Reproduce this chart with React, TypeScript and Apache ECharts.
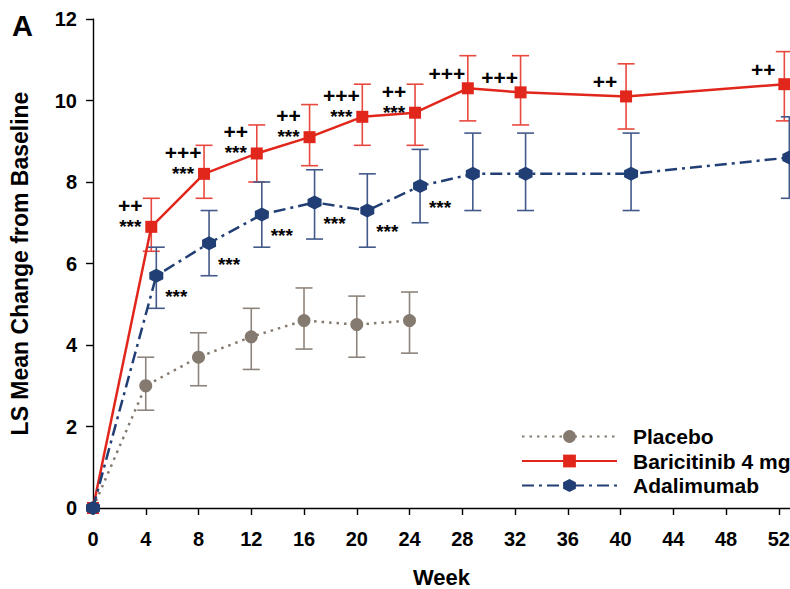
import React, { useEffect, useRef } from "react";
import * as echarts from "echarts";

// ---- data ----
const placeboWeeks = [0, 4, 8, 12, 16, 20, 24];
const placeboMean = [0, 3.0, 3.7, 4.2, 4.6, 4.5, 4.6];
const placeboLow = [null, 2.4, 3.0, 3.4, 3.9, 3.7, 3.8];
const placeboHigh = [null, 3.7, 4.3, 4.9, 5.4, 5.2, 5.3];

const activeWeeks = [0, 4, 8, 12, 16, 20, 24, 28, 32, 40, 52];
const baricitinibMean = [0, 6.9, 8.2, 8.7, 9.1, 9.6, 9.7, 10.3, 10.2, 10.1, 10.4];
const baricitinibLow = [null, 6.3, 7.6, 8.0, 8.4, 8.9, 8.9, 9.5, 9.4, 9.3, 9.5];
const baricitinibHigh = [null, 7.6, 8.9, 9.4, 9.9, 10.4, 10.4, 11.1, 11.1, 10.9, 11.2];
const baricitinibVsAdalimumab = ["", "++", "+++", "++", "++", "+++", "++", "+++", "+++", "++", "++"];
const baricitinibVsPlacebo = ["", "***", "***", "***", "***", "***", "***", "", "", "", ""];

const adalimumabMean = [0, 5.7, 6.5, 7.2, 7.5, 7.3, 7.9, 8.2, 8.2, 8.2, 8.6];
const adalimumabLow = [null, 4.9, 5.7, 6.4, 6.6, 6.4, 7.0, 7.3, 7.3, 7.3, 7.6];
const adalimumabHigh = [null, 6.4, 7.3, 8.0, 8.3, 8.2, 8.8, 9.2, 9.2, 9.2, 9.6];
const adalimumabVsPlacebo = ["", "***", "***", "***", "***", "***", "***", "", "", "", ""];

const xTicks = [0, 4, 8, 12, 16, 20, 24, 28, 32, 36, 40, 44, 48, 52];
const yTicks = [0, 2, 4, 6, 8, 10, 12];

// horizontal dodge (weeks) so that the groups do not overlap
const dodgePlacebo = 0;
const dodgeBaricitinib = 0.42;
const dodgeAdalimumab = 0.8;

const FONT = "'Liberation Sans', Arial, sans-serif";
const C_PLACEBO = "#857a70";
const C_PLACEBO_BAR = "#8e847b";
const C_BARI = "#e1261c";
const C_BARI_BAR = "#e8493f";
const C_ADA = "#213f74";
const C_ADA_BAR = "#42598a";

const shift = (w: number, d: number) => (w === 0 ? 0 : w + d);

function errorData(weeks: number[], lo: (number | null)[], hi: (number | null)[], d: number) {
  const out: number[][] = [];
  weeks.forEach((w, i) => {
    if (lo[i] != null && hi[i] != null) out.push([shift(w, d), lo[i] as number, hi[i] as number]);
  });
  return out;
}

function errorSeries(name: string, data: number[][], color: string) {
  return {
    name,
    type: "custom",
    z: 1,
    data,
    encode: { x: 0, y: [1, 2] },
    renderItem: (params: any, api: any) => {
      const x = api.value(0);
      const top = api.coord([x, api.value(2)]);
      const bot = api.coord([x, api.value(1)]);
      const hw = 8.5;
      const style = { stroke: color, lineWidth: 1.6 };
      return {
        type: "group",
        children: [
          { type: "line", shape: { x1: top[0], y1: top[1], x2: bot[0], y2: bot[1] }, style },
          { type: "line", shape: { x1: top[0] - hw, y1: top[1], x2: top[0] + hw, y2: top[1] }, style },
          { type: "line", shape: { x1: bot[0] - hw, y1: bot[1], x2: bot[0] + hw, y2: bot[1] }, style },
        ],
      };
    },
  };
}

const hexagon = "path://M0,-1L0.866,-0.5L0.866,0.5L0,1L-0.866,0.5L-0.866,-0.5Z";

export default function App() {
  const ref = useRef<HTMLDivElement>(null);
  useEffect(() => {
    if (!ref.current) return;
    const chart = echarts.init(ref.current, null, { renderer: "svg" });

    const bariData = activeWeeks.map((w, i) => {
      const plus = baricitinibVsAdalimumab[i];
      const stars = baricitinibVsPlacebo[i];
      let txt = "";
      let offset = [-21, -15];
      if (plus && stars) {
        txt = `{p|${plus}}\n{s|${stars}}`;
        offset = [-21, -11];
      } else if (plus) txt = `{p|${plus}}`;
      return {
        value: [shift(w, dodgeBaricitinib), baricitinibMean[i]],
        label: { show: txt !== "", formatter: txt, offset },
      };
    });

    const adaData = activeWeeks.map((w, i) => {
      const stars = adalimumabVsPlacebo[i];
      return {
        value: [shift(w, dodgeAdalimumab), adalimumabMean[i]],
        label: { show: stars !== "", formatter: stars ? `{s|${stars}}` : "" },
      };
    });

    const placeboData = placeboWeeks.map((w, i) => [shift(w, dodgePlacebo), placeboMean[i]]);

    const rich = {
      p: { fontFamily: FONT, fontWeight: "bold", fontSize: 21, lineHeight: 21, color: "#000" },
      s: { fontFamily: FONT, fontWeight: "bold", fontSize: 19, lineHeight: 21, color: "#000" },
    };

    chart.setOption({
      animation: false,
      textStyle: { fontFamily: FONT },
      grid: { left: 93, right: 0, top: 19, bottom: 81, containLabel: false, outerBoundsMode: "none" },
      graphic: [
        {
          type: "text",
          left: 12,
          top: 11,
          style: { text: "A", font: `bold 29px ${FONT}`, fill: "#000" },
        },
      ],
      legend: {
        orient: "vertical",
        left: 516,
        top: 421,
        itemWidth: 95,
        itemHeight: 16,
        itemGap: 3.5,
        data: ["Placebo", "Baricitinib 4 mg", "Adalimumab"],
        textStyle: {
          fontFamily: FONT,
          fontWeight: "bold",
          fontSize: 21,
          lineHeight: 21,
          color: "#000",
          padding: [0, 0, 0, 11],
        },
      },
      xAxis: {
        type: "value",
        min: 0,
        max: 52.85,
        interval: 4,
        name: "Week",
        nameLocation: "middle",
        nameGap: 59,
        nameTextStyle: { fontFamily: FONT, fontWeight: "bold", fontSize: 22, lineHeight: 20, color: "#000" },
        axisLine: { show: true, lineStyle: { color: "#000", width: 1.4 } },
        axisTick: { show: true, length: 7, lineStyle: { color: "#000", width: 1.4 }, customValues: xTicks },
        axisLabel: {
          customValues: xTicks,
          margin: 21,
          fontFamily: FONT,
          fontWeight: "bold",
          fontSize: 20,
          color: "#000",
        },
        splitLine: { show: false },
      },
      yAxis: {
        type: "value",
        min: 0,
        max: 12,
        interval: 2,
        name: "LS Mean Change from Baseline",
        nameLocation: "middle",
        nameGap: 62,
        nameTextStyle: { fontFamily: FONT, fontWeight: "bold", fontSize: 23, color: "#000" },
        axisLine: { show: true, lineStyle: { color: "#000", width: 1.4 } },
        axisTick: { show: true, length: 7, lineStyle: { color: "#000", width: 1.4 }, customValues: yTicks },
        axisLabel: {
          customValues: yTicks,
          margin: 16,
          fontFamily: FONT,
          fontWeight: "bold",
          fontSize: 20,
          color: "#000",
        },
        splitLine: { show: false },
      },
      series: [
        {
          name: "Placebo",
          type: "line",
          z: 3,
          data: placeboData,
          symbol: "circle",
          symbolSize: 13,
          itemStyle: { color: C_PLACEBO },
          lineStyle: { color: C_PLACEBO, width: 2.5, type: [2.5, 5] },
        },
        {
          name: "Baricitinib 4 mg",
          type: "line",
          z: 4,
          data: bariData,
          symbol: "rect",
          symbolSize: 12,
          itemStyle: { color: C_BARI },
          lineStyle: { color: C_BARI, width: 2.5, type: "solid" },
          label: { show: true, position: "inside", align: "center", verticalAlign: "middle", rich },
        },
        {
          name: "Adalimumab",
          type: "line",
          z: 5,
          data: adaData,
          symbol: hexagon,
          symbolSize: 14,
          itemStyle: { color: C_ADA },
          lineStyle: { color: C_ADA, width: 2.5, type: [12, 5, 3, 5] },
          label: { show: true, position: "inside", offset: [20, 21], align: "center", verticalAlign: "middle", rich },
        },
        errorSeries("Placebo SE", errorData(placeboWeeks, placeboLow, placeboHigh, dodgePlacebo), C_PLACEBO_BAR),
        errorSeries("Baricitinib SE", errorData(activeWeeks, baricitinibLow, baricitinibHigh, dodgeBaricitinib), C_BARI_BAR),
        errorSeries("Adalimumab SE", errorData(activeWeeks, adalimumabLow, adalimumabHigh, dodgeAdalimumab), C_ADA_BAR),
      ],
    });
    return () => chart.dispose();
  }, []);
  return <div ref={ref} style={{ position: "absolute", left: 0, top: 0, width: 790, height: 589 }} />;
}
